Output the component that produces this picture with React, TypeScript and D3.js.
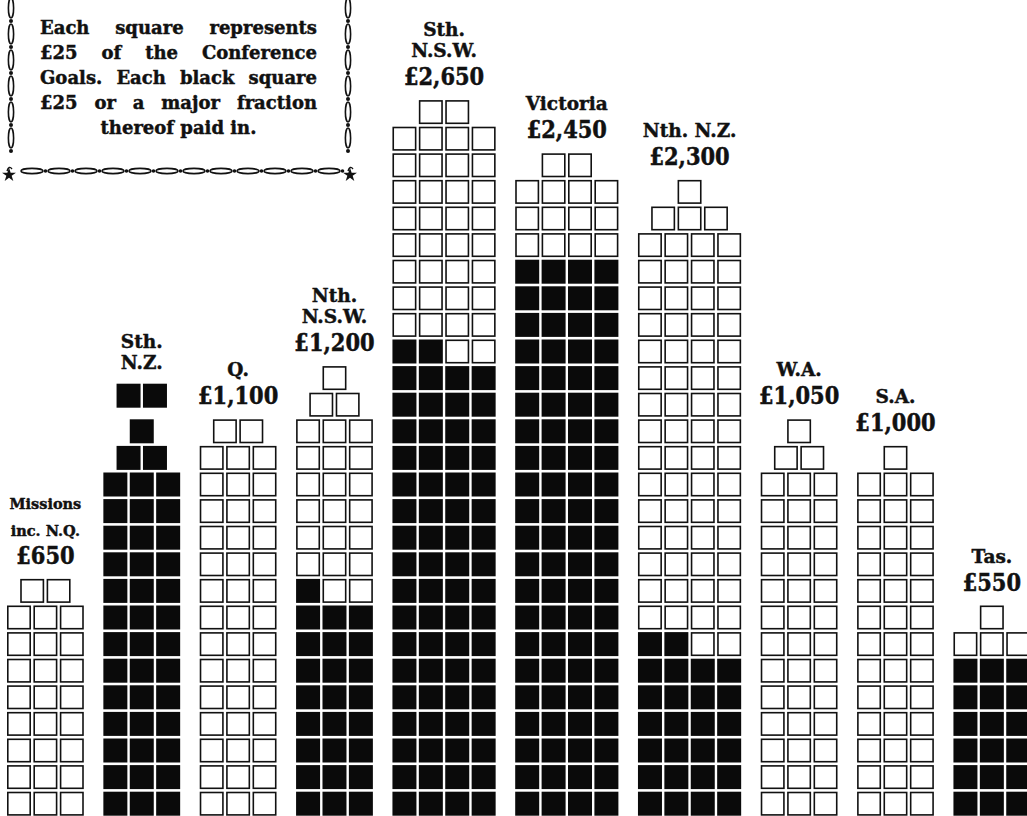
import React, { useEffect, useRef } from 'react';
import * as d3 from 'd3';

const W = 1027, H = 816;

// columns, left to right
const nameLines = [
  ['Missions', 'inc. N.Q.'], ['Sth.', 'N.Z.'], ['Q.'], ['Nth.', 'N.S.W.'], ['Sth.', 'N.S.W.'],
  ['Victoria'], ['Nth. N.Z.'], ['W.A.'], ['S.A.'], ['Tas.'],
];
const goalLabels = ['£650', null, '£1,100', '£1,200', '£2,650', '£2,450', '£2,300', '£1,050', '£1,000', '£550'];
const totalSquares = [26, 44, 44, 48, 106, 98, 92, 42, 40, 22];
const blackSquares = [0, 44, 0, 25, 70, 84, 26, 0, 0, 18];
const squaresPerRow = [3, 3, 3, 3, 4, 4, 4, 3, 3, 3];
// short steps sitting on top of each column, topmost first
const topSteps = [[2], [2, 1, 2], [2], [1, 2], [2], [2], [1, 3], [1, 2], [1], [1]];
const detachedTop = [false, true, false, false, false, false, false, false, false, false];

const legendLines = [
  'Each square represents',
  '£25 of the Conference',
  'Goals. Each black square',
  '£25 or a major fraction',
  'thereof paid in.',
];

const FONT = '"DejaVu Serif", "Liberation Serif", serif';
const INK = '#111';

export default function App() {
  const svgRef = useRef<SVGSVGElement>(null);

  useEffect(() => {
    const svg = d3.select(svgRef.current);
    svg.selectAll('*').remove();

    const pitchX = 26.4, pitchY = 26.6, side = 24, colGap = 0.65;
    // unit -> px scales (one unit = one square)
    const x = d3.scaleLinear().domain([0, 1]).range([7, 7 + pitchX]);
    const y = d3.scaleLinear().domain([0, 1]).range([817, 817 - pitchY]);

    // column start positions in square units
    const starts: number[] = [];
    let acc = 0;
    squaresPerRow.forEach((n) => { starts.push(acc); acc += n + colGap; });

    const g = svg.append('g');

    const boldText = (sel: any, size: number) =>
      sel.attr('font-family', FONT).attr('font-weight', 'bold').attr('font-size', size)
        .attr('fill', INK).attr('stroke', INK).attr('stroke-width', 0.45);

    nameLines.forEach((names, i) => {
      const n = squaresPerRow[i];
      const steps = topSteps[i];
      const stepTotal = d3.sum(steps);
      const fullRows = (totalSquares[i] - stepTotal) / n;

      type Sq = { u: number; row: number; dy: number };
      const squares: Sq[] = [];
      for (let r = 0; r < fullRows; r++)
        for (let c = 0; c < n; c++) squares.push({ u: starts[i] + c, row: r, dy: 0 });
      const bottomUp = steps.slice().reverse();
      bottomUp.forEach((m, t) => {
        const isTop = t === bottomUp.length - 1;
        const dy = isTop && detachedTop[i] ? -9 : 0;
        for (let c = 0; c < m; c++)
          squares.push({ u: starts[i] + (n - m) / 2 + c, row: fullRows + t, dy });
      });

      const col = g.append('g');
      squares.forEach((s, k) => {
        const isBlack = k < blackSquares[i];
        const sx = x(s.u), sy = y(s.row + 1) + 1.3 + s.dy;
        if (isBlack) {
          col.append('rect').attr('x', sx).attr('y', sy).attr('width', side).attr('height', side)
            .attr('fill', '#0a0a0a');
        } else {
          col.append('rect').attr('x', sx + 0.8).attr('y', sy + 0.8).attr('width', side - 1.6).attr('height', side - 1.6)
            .attr('fill', '#fff').attr('stroke', INK).attr('stroke-width', 1.6);
        }
      });

      // labels
      const topY = d3.min(squares, (s) => y(s.row + 1) + 1.3 + s.dy) as number;
      const cx = x(starts[i] + n / 2) - 1.2;
      let base = topY - 15;
      if (goalLabels[i]) {
        boldText(g.append('text'), 21)
          .attr('transform', `translate(${cx},${base}) scale(1,1.12)`)
          .attr('text-anchor', 'middle').text(goalLabels[i] as string);
        base -= 28;
      }
      const small = i === 0;
      const lineGap = small ? 27 : 21;
      names.slice().reverse().forEach((line, j) => {
        boldText(g.append('text'), small ? 14.5 : 18.5)
          .attr('x', cx).attr('y', base - j * lineGap)
          .attr('text-anchor', 'middle').text(line);
      });
    });

    // legend box
    const lg = svg.append('g');
    const left = 40, right = 317;
    legendLines.forEach((line, li) => {
      const by = 34 + li * 25;
      const words = line.split(' ');
      if (li === legendLines.length - 1) {
        boldText(lg.append('text'), 18).attr('x', (left + right) / 2).attr('y', by)
          .attr('text-anchor', 'middle').text(line);
        return;
      }
      const nodes = words.map((w) => boldText(lg.append('text'), 18).attr('y', by).text(w));
      const widths = nodes.map((t) => (t.node() as SVGTextElement).getComputedTextLength());
      const gap = (right - left - d3.sum(widths)) / (words.length - 1);
      let cur = left;
      nodes.forEach((t, k) => { t.attr('x', cur); cur += widths[k] + gap; });
    });

    // chain border: left, right, bottom
    const chainV = (cx: number) => {
      d3.range(8, 160, 26).forEach((cy) => {
        lg.append('ellipse').attr('cx', cx).attr('cy', cy).attr('rx', 2.6).attr('ry', 10)
          .attr('fill', 'none').attr('stroke', INK).attr('stroke-width', 1.6);
        lg.append('circle').attr('cx', cx).attr('cy', cy + 13).attr('r', 2).attr('fill', INK);
      });
    };
    chainV(11);
    chainV(348);
    d3.range(32, 340, 27).forEach((cx) => {
      lg.append('ellipse').attr('cx', cx).attr('cy', 171).attr('rx', 11).attr('ry', 2.6)
        .attr('fill', 'none').attr('stroke', INK).attr('stroke-width', 1.6);
      lg.append('circle').attr('cx', cx + 13.5).attr('cy', 171).attr('r', 1.8).attr('fill', INK);
    });
    const star = d3.symbol().type(d3.symbolStar).size(60);
    [[9, 175], [350, 175]].forEach(([sx, sy]) => {
      lg.append('path').attr('d', star()).attr('transform', `translate(${sx},${sy})`).attr('fill', INK);
      lg.append('path').attr('d', `M${sx - 2},${sy - 4} q2,-6 5,-2`).attr('fill', 'none')
        .attr('stroke', INK).attr('stroke-width', 1.4);
    });
  }, []);

  return (
    <svg ref={svgRef} width={W} height={H} viewBox={`0 0 ${W} ${H}`}
      style={{ display: 'block', position: 'absolute', left: 0, top: 0, background: '#fff' }} />
  );
}
